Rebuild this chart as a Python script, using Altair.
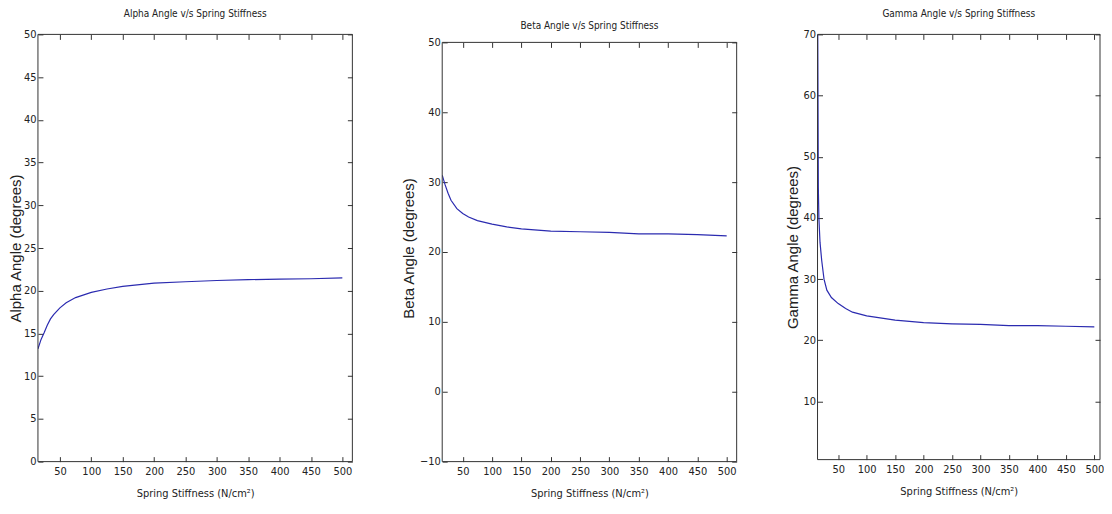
import altair as alt
import pandas as pd

# ---- data ----
k_alpha = [15, 20, 25, 30, 35, 40, 50, 60, 75, 100, 125, 150, 200, 250, 300, 350, 400, 450, 500]
alpha = [13.2, 14.3, 15.1, 16.0, 16.7, 17.2, 18.0, 18.6, 19.2, 19.8, 20.2, 20.5, 20.9, 21.05, 21.2, 21.3, 21.35, 21.4, 21.5]

k_beta = [15, 20, 25, 30, 40, 50, 60, 75, 100, 125, 150, 200, 250, 300, 350, 400, 450, 500]
beta = [31.0, 29.6, 28.4, 27.4, 26.2, 25.5, 25.0, 24.5, 24.0, 23.6, 23.3, 23.0, 22.9, 22.8, 22.6, 22.6, 22.5, 22.3]

k_gamma = [14, 15, 16, 18, 21, 25, 30, 38, 50, 63, 75, 100, 150, 200, 250, 300, 350, 400, 450, 500]
gamma = [70, 45, 40, 36, 33, 30, 28.2, 27, 26, 25.2, 24.6, 24.0, 23.3, 22.9, 22.7, 22.6, 22.4, 22.4, 22.3, 22.2]

x_ticks = [50, 100, 150, 200, 250, 300, 350, 400, 450, 500]
alpha_ticks = [0, 5, 10, 15, 20, 25, 30, 35, 40, 45, 50]
beta_ticks = [-10, 0, 10, 20, 30, 40, 50]
gamma_ticks = [10, 20, 30, 40, 50, 60, 70]

# axis limits (box) of each panel: x from, x to, y from, y to
alpha_box = [15, 516, 0, 50]
beta_box = [15, 517, -10, 50]
gamma_box = [13.6, 510, 0.5, 70]

titles = ["Alpha Angle v/s Spring Stiffness", "Beta Angle v/s Spring Stiffness", "Gamma Angle v/s Spring Stiffness"]
y_titles = ["Alpha Angle (degrees)", "Beta Angle (degrees)", "Gamma Angle (degrees)"]
x_title = "Spring Stiffness (N/cm\u00b2)"

LINE = "#2b2bb0"
AX = "#333333"
COND = "DejaVu Sans Condensed, Liberation Sans"


def panel(ks, vals, box, title, ytitle, yticks, w, h, toffset, ytp, ytop_extra=0.0, top_off=-5):
    df = pd.DataFrame({"k": ks, "v": vals})
    xs = alt.Scale(domain=[box[0], box[1]], nice=False, zero=False)
    ys = alt.Scale(domain=[box[2], box[3] + ytop_extra], nice=False, zero=False)
    common = dict(tickSize=5, domain=False, grid=False, tickColor=AX,
                  labelFont=COND, labelFontSize=11, labelColor="#222")
    main = alt.Chart(df).mark_line(color=LINE, strokeWidth=1.2, clip=True).encode(
        x=alt.X("k:Q", scale=xs, axis=alt.Axis(orient="bottom", values=x_ticks, title=x_title, offset=-5,
                                              labelPadding=4, titleFont=COND, titleFontSize=11,
                                              titleFontWeight="normal", titlePadding=11, titleColor="#222",
                                              **common)),
        y=alt.Y("v:Q", scale=ys, axis=alt.Axis(orient="left", values=yticks, title=ytitle, offset=-5,
                                              labelPadding=2, titleFont="Liberation Sans", titleFontSize=15,
                                              titleFontWeight="normal", titlePadding=ytp, titleColor="#222",
                                              **common)),
    )
    ghost = alt.Chart(df).mark_line(opacity=0).encode(
        x=alt.X("k:Q", scale=xs, axis=alt.Axis(orient="top", values=x_ticks, labels=False, title=None,
                                              offset=top_off, **common)),
        y=alt.Y("v:Q", scale=ys, axis=alt.Axis(orient="right", values=yticks, labels=False, title=None,
                                              offset=-5, **common)),
    )
    fdf = pd.DataFrame({"x0": [box[0]], "x1": [box[1]], "y0": [box[2]], "y1": [box[3]]})
    frame = alt.Chart(fdf).mark_rect(fillOpacity=0, stroke=AX, strokeWidth=1).encode(
        x=alt.X("x0:Q", scale=xs, axis=None), x2="x1:Q",
        y=alt.Y("y0:Q", scale=ys, axis=None), y2="y1:Q",
    )
    return alt.layer(main, ghost, frame).resolve_axis(x="independent", y="independent").properties(
        width=w, height=h,
        title=alt.TitleParams(title, font=COND, fontSize=10, fontWeight="normal", color="#222",
                              offset=toffset),
    )


p1 = panel(k_alpha, alpha, alpha_box, titles[0], y_titles[0], alpha_ticks, 315, 428, 9.5, 0)
p2 = panel(k_beta, beta, beta_box, titles[1], y_titles[1], beta_ticks, 295, 428, 3.5, 3,
           ytop_extra=8 / 7, top_off=-13)
p3 = panel(k_gamma, gamma, gamma_box, titles[2], y_titles[2], gamma_ticks, 283, 426, 9.5, 2)

chart = alt.hconcat(p1, p2, p3, spacing=48).properties(
    padding=0
).configure_view(stroke=None)

chart.save("out.html", embed_options={"renderer": "svg", "actions": False})
